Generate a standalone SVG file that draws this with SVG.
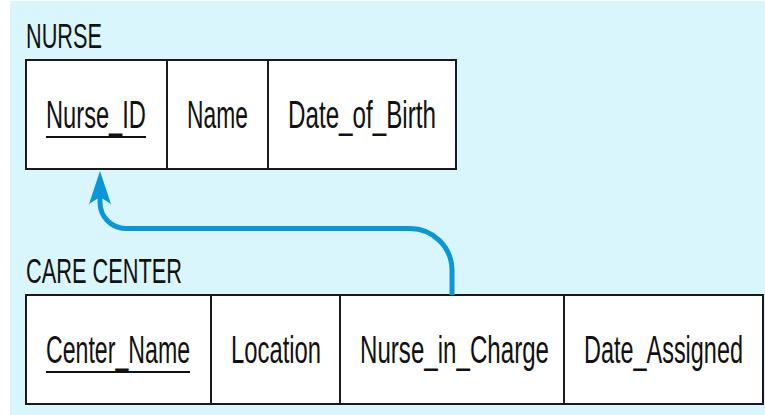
<svg xmlns="http://www.w3.org/2000/svg" width="765" height="415" viewBox="0 0 765 415">
  <style>
    .bg { fill: #d9f6fc; }
    .table { fill: #ffffff; stroke: #1a1a1a; stroke-width: 2; }
    .div { stroke: #1a1a1a; stroke-width: 2; }
    .title { font-family: "Liberation Sans", Arial, sans-serif; font-size: 35px; fill: #111111; }
    .cell { font-family: "Liberation Sans", Arial, sans-serif; font-size: 38px; fill: #111111; }
    .key { stroke: #111111; stroke-width: 2.2; }
    .link { fill: none; stroke: #0a97da; stroke-width: 5; }
  </style>
  <defs>
    <marker id="arrowhead" markerUnits="userSpaceOnUse" markerWidth="40" markerHeight="30" viewBox="-2 -14 40 28" refX="7" refY="0" orient="auto">
      <path d="M0,-11 L33,0 L0,11 L7,0 Z" fill="#0a97da"/>
    </marker>
  </defs>

  <!-- page background -->
  <rect class="bg" x="10" y="1" width="755" height="414"/>

  <!-- NURSE relation (condensed lettering via horizontal scale) -->
  <g id="nurse">
    <text class="title" transform="translate(26,48) scale(0.62,1)">NURSE</text>
    <rect class="table" x="26" y="60" width="430" height="109"/>
    <line class="div" x1="167" y1="60" x2="167" y2="169"/>
    <line class="div" x1="268" y1="60" x2="268" y2="169"/>
    <text class="cell" transform="translate(46,128) scale(0.623,1)">Nurse_ID</text>
    <line class="key" x1="46" y1="137" x2="146" y2="137"/>
    <text class="cell" transform="translate(187,128) scale(0.6,1)">Name</text>
    <text class="cell" transform="translate(288,128) scale(0.637,1)">Date_of_Birth</text>
  </g>

  <!-- CARE CENTER relation -->
  <g id="care-center">
    <text class="title" transform="translate(26,283) scale(0.622,1)">CARE CENTER</text>
    <rect class="table" x="26" y="295" width="737" height="109"/>
    <line class="div" x1="211" y1="295" x2="211" y2="404"/>
    <line class="div" x1="340" y1="295" x2="340" y2="404"/>
    <line class="div" x1="564" y1="295" x2="564" y2="404"/>
    <text class="cell" transform="translate(46,363) scale(0.609,1)">Center_Name</text>
    <line class="key" x1="46" y1="372" x2="190" y2="372"/>
    <text class="cell" transform="translate(231,363) scale(0.627,1)">Location</text>
    <text class="cell" transform="translate(360,363) scale(0.635,1)">Nurse_in_Charge</text>
    <text class="cell" transform="translate(584,363) scale(0.617,1)">Date_Assigned</text>
  </g>

  <!-- foreign key reference: Nurse_in_Charge -> Nurse_ID -->
  <g id="connectors">
    <path class="link" d="M452,295 V270 A42,42 0 0 0 410,228.5 H126 A26,26 0 0 1 100,202.5 V197" marker-end="url(#arrowhead)"/>
  </g>
</svg>
